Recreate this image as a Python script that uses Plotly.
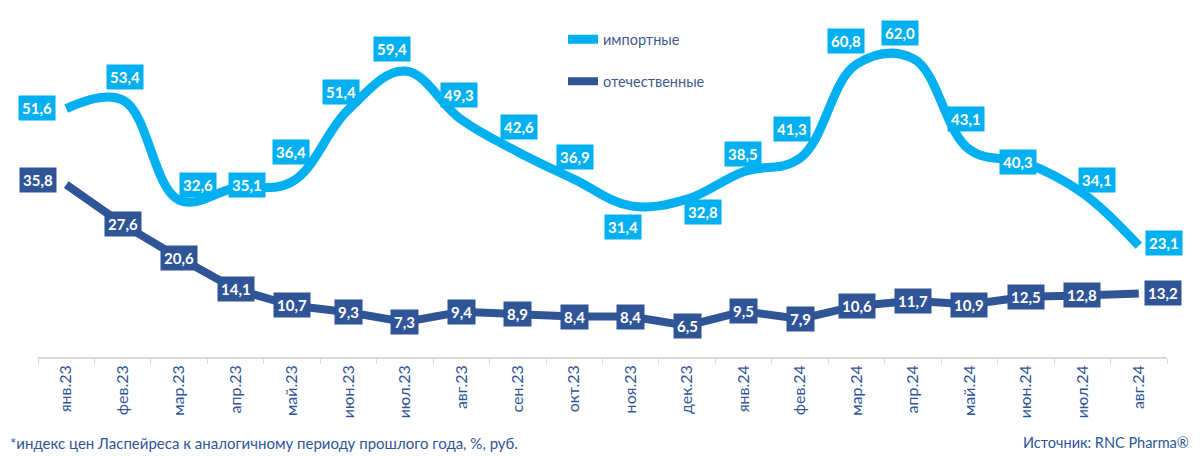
import plotly.graph_objects as go

months = ["янв.23", "фев.23", "мар.23", "апр.23", "май.23", "июн.23", "июл.23", "авг.23",
          "сен.23", "окт.23", "ноя.23", "дек.23", "янв.24", "фев.24", "мар.24", "апр.24",
          "май.24", "июн.24", "июл.24", "авг.24"]
imported = [51.6, 53.4, 32.6, 35.1, 36.4, 51.4, 59.4, 49.3, 42.6, 36.9, 31.4, 32.8,
            38.5, 41.3, 60.8, 62.0, 43.1, 40.3, 34.1, 23.1]
domestic = [35.8, 27.6, 20.6, 14.1, 10.7, 9.3, 7.3, 9.4, 8.9, 8.4, 8.4, 6.5,
            9.5, 7.9, 10.6, 11.7, 10.9, 12.5, 12.8, 13.2]

# label offsets in pixels (dx, dy upward positive)
imp_dx = [-29, 2, 19, 11, -1, -7, -13, -2, 1, 1, -8, 16, -1, -8, -11, -13, -3, -8, 15, 25]
imp_dy = [1, 23, 15, 3, 30, 18, 22, 25, 25, 22, -21, -13, 18, 29, 23, 26, 31, 1, 13, 3]
dom_dx = [-28] + [0] * 18 + [24]
dom_dy = [5] + [0] * 19

C_IMP = "#00B0F0"
C_DOM = "#2F5597"
TXT = "#2F5597"

fig = go.Figure()
fig.add_trace(go.Scatter(x=months, y=imported, mode="lines", name="импортные",
                         line=dict(color=C_IMP, width=9, shape="spline", smoothing=1.1),
                         legendgroup="a"))
fig.add_trace(go.Scatter(x=months, y=domestic, mode="lines", name="отечественные",
                         line=dict(color=C_DOM, width=8), legendgroup="b"))

def fmt(v):
    return f"{v:.1f}".replace(".", ",")

for vals, dxs, dys, col in [(imported, imp_dx, imp_dy, C_IMP), (domestic, dom_dx, dom_dy, C_DOM)]:
    for m, v, dx, dy in zip(months, vals, dxs, dys):
        fig.add_annotation(x=m, y=v, text=f"<b>{fmt(v)}</b>", showarrow=False,
                           xshift=dx, yshift=dy, bgcolor=col, borderpad=3,
                           font=dict(family="Lato", size=15, color="white"))

fig.add_annotation(xref="paper", yref="paper", x=-0.027, y=-0.255, xanchor="left", yanchor="middle",
                   text="*индекс цен Ласпейреса к аналогичному периоду прошлого года, %, руб.",
                   showarrow=False, font=dict(family="Lato", size=15, color=TXT))
fig.add_annotation(xref="paper", yref="paper", x=1.021, y=-0.255, xanchor="right", yanchor="middle",
                   text="Источник: RNC Pharma®",
                   showarrow=False, font=dict(family="Lato", size=14.5, color=TXT))

fig.update_layout(
    width=1200, height=456,
    margin=dict(l=38, r=33, t=20, b=99),
    paper_bgcolor="white", plot_bgcolor="white",
    font=dict(family="Lato", color=TXT),
    showlegend=True,
    legend=dict(x=0.465, y=0.99, xanchor="left", yanchor="top", bgcolor="rgba(0,0,0,0)",
                font=dict(family="Lato", size=14.5, color="#3F5A8C"),
                tracegroupgap=20, itemwidth=30),
    xaxis=dict(type="category", range=[-0.5, 19.5], showgrid=False, showline=True,
               linecolor="#D9D9D9", linewidth=1.5, ticks="outside", tickson="boundaries",
               ticklen=5, tickcolor="#D9D9D9", tickangle=-90,
               tickfont=dict(family="Lato", size=16, color=TXT)),
    yaxis=dict(range=[0, 70], visible=False),
)

fig.write_html("out.html")
